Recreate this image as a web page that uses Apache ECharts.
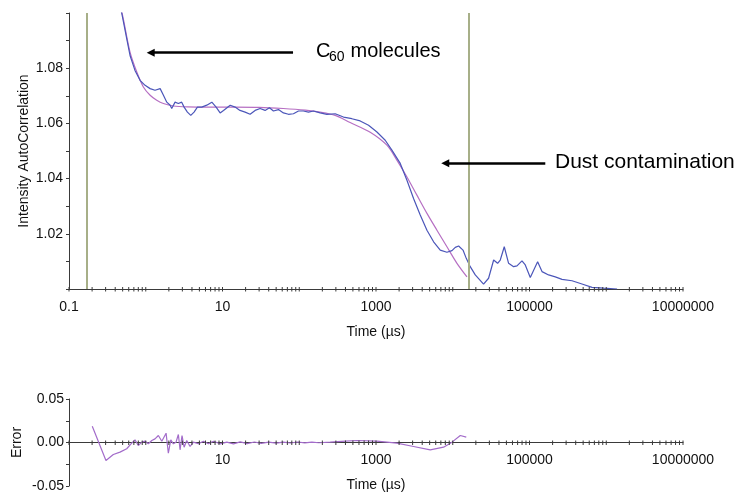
<!DOCTYPE html>
<html>
<head>
<meta charset="utf-8">
<script src="https://cdn.jsdelivr.net/npm/echarts@6/dist/echarts.min.js"></script>
<style>
  html, body { margin: 0; padding: 0; background: #fff; }
  #chart { width: 735px; height: 493px; }
</style>
</head>
<body>
<div id="chart"></div>
<script>
// ---- data (time in µs) ----
const measuredData = [
  [0.45, 1.104], [0.486, 1.100], [0.565, 1.0907], [0.624, 1.0846], [0.724, 1.0792],
  [0.843, 1.0756], [0.98, 1.0738], [1.14, 1.0726], [1.32, 1.0720], [1.54, 1.0726],
  [1.70, 1.0702], [1.88, 1.0677], [2.08, 1.0666], [2.18, 1.0654], [2.41, 1.0677],
  [2.66, 1.0672], [2.94, 1.0677], [3.16, 1.0659], [3.49, 1.0641], [3.86, 1.0629],
  [4.26, 1.0641], [4.71, 1.0659], [5.37, 1.0659], [6.24, 1.0666], [7.26, 1.0677],
  [8.26, 1.0659], [9.31, 1.0638], [10.3, 1.0647], [12.6, 1.0666], [14.6, 1.0659],
  [16.9, 1.0647], [19.7, 1.0641], [22.9, 1.0633], [26.6, 1.0647], [30.9, 1.0654],
  [35.9, 1.0647], [40.9, 1.0657], [46.1, 1.0645], [53.6, 1.0650], [62.2, 1.0638],
  [72.3, 1.0633], [84, 1.0635], [97.7, 1.0645], [113, 1.0645], [132, 1.0641],
  [153, 1.0645], [187, 1.0638], [229, 1.0633], [294, 1.0635], [377, 1.0623],
  [485, 1.0617], [622, 1.0609], [800, 1.0593], [1028, 1.0569], [1318, 1.0539],
  [1611, 1.0503], [2070, 1.0455], [2530, 1.0394], [3085, 1.0328], [3770, 1.0268],
  [4610, 1.0213], [5630, 1.0171], [6870, 1.0141], [8390, 1.0133], [9770, 1.0139],
  [10790, 1.0151], [11920, 1.0156], [13600, 1.0141], [15000, 1.0111], [16900, 1.0081],
  [19650, 1.0051], [25200, 1.0018], [29300, 1.0039], [34100, 1.0105], [38400, 1.0093],
  [41600, 1.0105], [46900, 1.0153], [53400, 1.0093], [62100, 1.0081], [68700, 1.0084],
  [79800, 1.0102], [88100, 1.0087], [102400, 1.0042], [127600, 1.0099], [145500, 1.0063],
  [177400, 1.0051], [216800, 1.0044], [265300, 1.0035], [358000, 1.0030], [483000, 1.0018],
  [653000, 1.0006], [925000, 1.0003], [1383000, 1.0000]
];
const fitData = [
  [0.45, 1.1045], [0.51, 1.0979], [0.624, 1.0858], [0.764, 1.0786], [0.931, 1.0732],
  [1.14, 1.0702], [1.39, 1.0684], [1.70, 1.0672], [2.29, 1.0663], [3.5, 1.0660],
  [10, 1.0659], [30, 1.0658], [62, 1.0654], [120, 1.0648], [187, 1.0641],
  [294, 1.0629], [461, 1.0603], [841, 1.0568], [1387, 1.0521], [1871, 1.0467],
  [2530, 1.0406], [3413, 1.0340], [4613, 1.0274], [6223, 1.0213], [8400, 1.0153],
  [11350, 1.0093], [15310, 1.0044]
];
const errorData = [
  [0.201, 0.0187], [0.303, -0.0207], [0.378, -0.0138], [0.462, -0.0111], [0.565, -0.0072],
  [0.656, -0.0008], [0.725, 0.0030], [0.80, -0.0034], [0.887, 0.0004], [0.98, 0.0015],
  [1.08, -0.0015], [1.20, 0.0023], [1.32, 0.0042], [1.46, 0.0080], [1.62, 0.0015],
  [1.84, 0.0107], [1.97, -0.0123], [2.12, 0.0030], [2.29, -0.0015], [2.48, 0.0004],
  [2.66, 0.0092], [2.80, -0.0084], [2.97, 0.0080], [3.16, -0.0054], [3.42, 0.0023],
  [3.78, -0.0046], [4.18, 0.0004], [4.86, -0.0015], [5.64, 0.0015], [6.55, -0.0015],
  [7.62, 0.0015], [9.3, -0.0015], [11.4, 0.0004], [13.9, -0.0015], [17, 0.0008],
  [21, -0.0012], [26, 0.0006], [32, -0.0010], [40, 0.0004], [50, -0.0008],
  [62, 0.0005], [77, -0.0006], [95, 0.0006], [118, -0.0004], [146, 0.0005],
  [180, -0.0003], [253, 0.0004], [400, 0.0015], [564, 0.0023], [1028, 0.0015],
  [1871, -0.0008], [3085, -0.0046], [5090, -0.0084], [7590, -0.0054], [9770, 0.0004],
  [12540, 0.0080], [15000, 0.0061]
];
const markerTimes = [0.175, 16400];
const arrow1 = [[83, 1.0856], [1.16, 1.0856]];
const arrow2 = [[160600, 1.0456], [7980, 1.0456]];

// ---- axis ticks / labels ----
const decades = [0.1, 1, 10, 100, 1000, 10000, 100000, 1000000];
const tickMultipliers = [1, 2, 3, 4, 5, 6, 7, 8, 9];
const axisEnd = 10000000;
const topXLabels = { '-1': '0.1', '1': '10', '3': '1000', '5': '100000', '7': '10000000' };
const bottomXLabels = { '1': '10', '3': '1000', '5': '100000', '7': '10000000' };
const topYLabels = ['1.02', '1.04', '1.06', '1.08'];
const bottomYLabels = ['0.05', '0.00', '-0.05'];

const xTicks = [];
decades.forEach(d => tickMultipliers.forEach(m => xTicks.push(d * m)));
xTicks.push(axisEnd);

const FONT = '"Liberation Sans", Arial, Helvetica, sans-serif';
const axisColor = '#3a3a3a';

// bottom panel geometry: grid top 399, height 87, range -0.05..0.05 -> zero line 43.5px above bottom
const BOTTOM_TOP = 399, BOTTOM_H = 87;
const zeroOffset = -BOTTOM_H / 2;

function tickSeries(xi, base) {
  return {
    type: 'custom', xAxisIndex: xi, yAxisIndex: xi, silent: true, clip: false, z: 5,
    data: xTicks.map(v => [v, base]),
    encode: { x: 0, y: 1 },
    renderItem: function (params, api) {
      const p = api.coord([api.value(0), api.value(1)]);
      return { type: 'line', shape: { x1: p[0], y1: p[1] - 2, x2: p[0], y2: p[1] + 2.5 },
               style: { stroke: axisColor, lineWidth: 1 } };
    }
  };
}

function xAxisDef(gi, labels, margin, offset) {
  return {
    type: 'log', logBase: 10, gridIndex: gi, min: 0.1, max: axisEnd, interval: 1,
    offset: offset,
    name: 'Time (µs)', nameLocation: 'middle', nameGap: 36,
    nameTextStyle: { fontFamily: FONT, fontSize: 14, color: '#111' },
    axisLine: { onZero: false, lineStyle: { color: axisColor, width: 1 } },
    axisTick: { show: false }, splitLine: { show: false }, minorTick: { show: false },
    axisLabel: {
      margin: margin, fontFamily: FONT, fontSize: 14, color: '#111', showMinLabel: true, showMaxLabel: true,
      formatter: function (v) { const e = Math.round(Math.log10(v)); return labels[String(e)] || ''; }
    }
  };
}

const chart = echarts.init(document.getElementById('chart'), null, { renderer: 'canvas' });
chart.setOption({
  animation: false,
  backgroundColor: '#ffffff',
  grid: [
    { left: 69, right: 52, top: 13, height: 276, outerBoundsMode: 'none', containLabel: false },
    { left: 69, right: 52, top: BOTTOM_TOP, height: BOTTOM_H, outerBoundsMode: 'none', containLabel: false }
  ],
  xAxis: [ xAxisDef(0, topXLabels, 11, 0), xAxisDef(1, bottomXLabels, 11, zeroOffset) ],
  yAxis: [
    {
      type: 'value', gridIndex: 0, min: 1.0, max: 1.1, interval: 0.01,
      name: 'Intensity AutoCorrelation', nameLocation: 'middle', nameGap: 38, nameMoveOverlap: false,
      nameTextStyle: { fontFamily: FONT, fontSize: 14, color: '#111' },
      axisLine: { show: true, lineStyle: { color: axisColor } },
      axisTick: { show: true, length: 3, lineStyle: { color: axisColor } },
      splitLine: { show: false },
      axisLabel: { margin: 6, fontFamily: FONT, fontSize: 14, color: '#111',
        formatter: function (v) { const s = v.toFixed(2); return topYLabels.indexOf(s) >= 0 ? s : ''; } }
    },
    {
      type: 'value', gridIndex: 1, min: -0.05, max: 0.05, interval: 0.025,
      name: 'Error', nameLocation: 'middle', nameGap: 45, nameMoveOverlap: false,
      nameTextStyle: { fontFamily: FONT, fontSize: 14, color: '#111' },
      axisLine: { show: true, lineStyle: { color: axisColor } },
      axisTick: { show: true, length: 3, lineStyle: { color: axisColor } },
      splitLine: { show: false },
      axisLabel: { margin: 5, fontFamily: FONT, fontSize: 14, color: '#111',
        formatter: function (v) { const s = (Math.abs(v) < 1e-9 ? 0 : v).toFixed(2); return bottomYLabels.indexOf(s) >= 0 ? s : ''; } }
    }
  ],
  series: [
    {
      name: 'measured', type: 'line', xAxisIndex: 0, yAxisIndex: 0, data: measuredData,
      showSymbol: false, clip: true, z: 3,
      lineStyle: { color: '#4b56b9', width: 1.2 },
      markLine: {
        silent: true, symbol: 'none', label: { show: false }, animation: false,
        lineStyle: { color: '#a7af88', width: 2, type: 'solid' },
        data: markerTimes.map(t => ({ xAxis: t }))
      }
    },
    {
      name: 'fit', type: 'line', xAxisIndex: 0, yAxisIndex: 0, data: fitData,
      showSymbol: false, clip: true, smooth: 0.3, z: 2,
      lineStyle: { color: '#b66fc3', width: 1.2 },
      markLine: {
        silent: true, symbol: ['none', 'triangle'], symbolSize: 8, label: { show: false }, animation: false,
        lineStyle: { color: '#000', width: 2.5, type: 'solid' },
        data: [
          [{ coord: arrow1[0] }, { coord: arrow1[1] }],
          [{ coord: arrow2[0] }, { coord: arrow2[1] }]
        ]
      }
    },
    {
      name: 'error', type: 'line', xAxisIndex: 1, yAxisIndex: 1, data: errorData,
      showSymbol: false, z: 3,
      lineStyle: { color: '#a36cca', width: 1.2 }
    },
    tickSeries(0, 1.0),
    tickSeries(1, 0)
  ],
  graphic: [
    { type: 'text', x: 316, y: 51.5, style: { text: 'C', font: '20px ' + FONT, fill: '#000', verticalAlign: 'middle', textVerticalAlign: 'middle' } },
    { type: 'text', x: 329, y: 57, style: { text: '60', font: '14px ' + FONT, fill: '#000', verticalAlign: 'middle', textVerticalAlign: 'middle' } },
    { type: 'text', x: 350.5, y: 51.5, style: { text: 'molecules', font: '20px ' + FONT, fill: '#000', verticalAlign: 'middle', textVerticalAlign: 'middle' } },
    { type: 'text', x: 555, y: 162.5, style: { text: 'Dust contamination', font: '21px ' + FONT, fill: '#000', verticalAlign: 'middle', textVerticalAlign: 'middle' } }
  ]
});
</script>
</body>
</html>
